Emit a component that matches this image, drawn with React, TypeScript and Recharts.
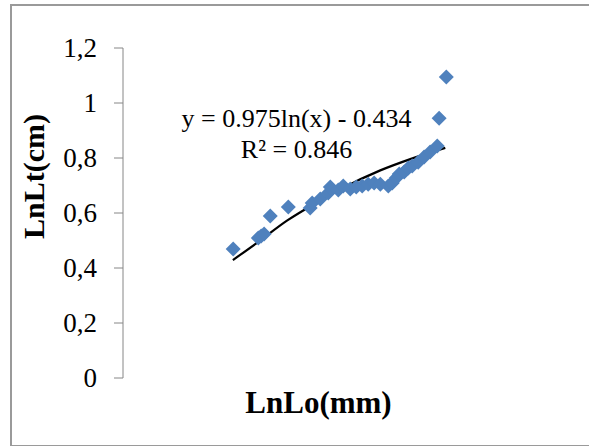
import { ComposedChart, Scatter, Line, XAxis, YAxis } from "recharts";

const lnLo = [
  2.436, 2.583, 2.6, 2.617, 2.653, 2.759, 2.887, 2.899, 2.946, 2.993, 3.005,
  3.052, 3.081, 3.122, 3.157, 3.192, 3.227, 3.262, 3.298, 3.345, 3.368, 3.391,
  3.409, 3.438, 3.462, 3.485, 3.52, 3.555, 3.59, 3.632, 3.643, 3.685,
];
const lnLt = [
  0.469, 0.509, 0.516, 0.524, 0.589, 0.622, 0.618, 0.636, 0.651, 0.673, 0.695,
  0.684, 0.698, 0.687, 0.695, 0.698, 0.705, 0.709, 0.705, 0.698, 0.709, 0.727,
  0.742, 0.749, 0.764, 0.771, 0.785, 0.804, 0.822, 0.844, 0.945, 1.095,
];

// trendline
const trendX = [2.434, 2.594, 2.751, 2.946, 3.063, 3.298, 3.474, 3.679];
const trendY = [0.429, 0.5, 0.572, 0.645, 0.686, 0.755, 0.796, 0.837];

const yTicks = [0, 0.2, 0.4, 0.6, 0.8, 1, 1.2];
const yTickLabels = ["0", "0,2", "0,4", "0,6", "0,8", "1", "1,2"];

const equation = "y = 0.975ln(x) - 0.434";
const rSquared = "R² = 0.846";

const points = lnLo.map((x, i) => ({ x, y: lnLt[i] }));
const trend = trendX.map((x, i) => ({ x, y: trendY[i] }));

const serif = "'Liberation Serif', 'Times New Roman', serif";

function Diamond(props: any) {
  const { cx, cy } = props;
  const r = 7.5;
  return (
    <polygon
      points={`${cx},${cy - r} ${cx + r},${cy} ${cx},${cy + r} ${cx - r},${cy}`}
      fill="#4F81BD"
    />
  );
}

function YTick(props: any) {
  const { x, y, payload } = props;
  return (
    <text
      x={x}
      y={y}
      dy="0.34em"
      textAnchor="end"
      fontSize={27}
      fontFamily={serif}
      fill="#000"
    >
      {yTickLabels[yTicks.indexOf(payload.value)]}
    </text>
  );
}

export default function App() {
  return (
    <div
      style={{
        position: "absolute",
        left: 0,
        top: 0,
        width: 589,
        height: 446,
        overflow: "hidden",
        background: "#fff",
        fontFamily: serif,
      }}
    >
      <div
        style={{
          position: "absolute",
          left: 10,
          top: 4,
          width: 620,
          height: 439,
          border: "2px solid #9a9a9a",
        }}
      />
      <ComposedChart
        width={589}
        height={446}
        margin={{ top: 48, right: 106, bottom: 68, left: 10 }}
      >
        <XAxis dataKey="x" type="number" domain={[1.79, 3.9]} hide />
        <YAxis
          dataKey="y"
          type="number"
          domain={[0, 1.2]}
          ticks={yTicks}
          width={113}
          tickSize={9}
          tickMargin={17}
          interval={0}
          stroke="#868686"
          tick={<YTick />}
        />
        <Scatter
          data={points}
          dataKey="y"
          shape={Diamond}
          isAnimationActive={false}
        />
        <Line
          data={trend}
          dataKey="y"
          type="monotone"
          stroke="#000"
          strokeWidth={2.2}
          dot={false}
          activeDot={false}
          isAnimationActive={false}
        />
      </ComposedChart>
      <svg
        width={589}
        height={446}
        style={{ position: "absolute", left: 0, top: 0, pointerEvents: "none" }}
      >
        <text x={296.5} y={127} textAnchor="middle" fontSize={26} fontFamily={serif}>
          {equation}
        </text>
        <text x={296.5} y={158} textAnchor="middle" fontSize={26} fontFamily={serif}>
          {rSquared}
        </text>
        <text
          x={318.5}
          y={413}
          textAnchor="middle"
          fontSize={31}
          fontWeight="bold"
          fontFamily={serif}
        >
          LnLo(mm)
        </text>
        <text
          transform="translate(44,176.5) rotate(-90)"
          textAnchor="middle"
          fontSize={30}
          fontWeight="bold"
          fontFamily={serif}
        >
          LnLt(cm)
        </text>
      </svg>
    </div>
  );
}
